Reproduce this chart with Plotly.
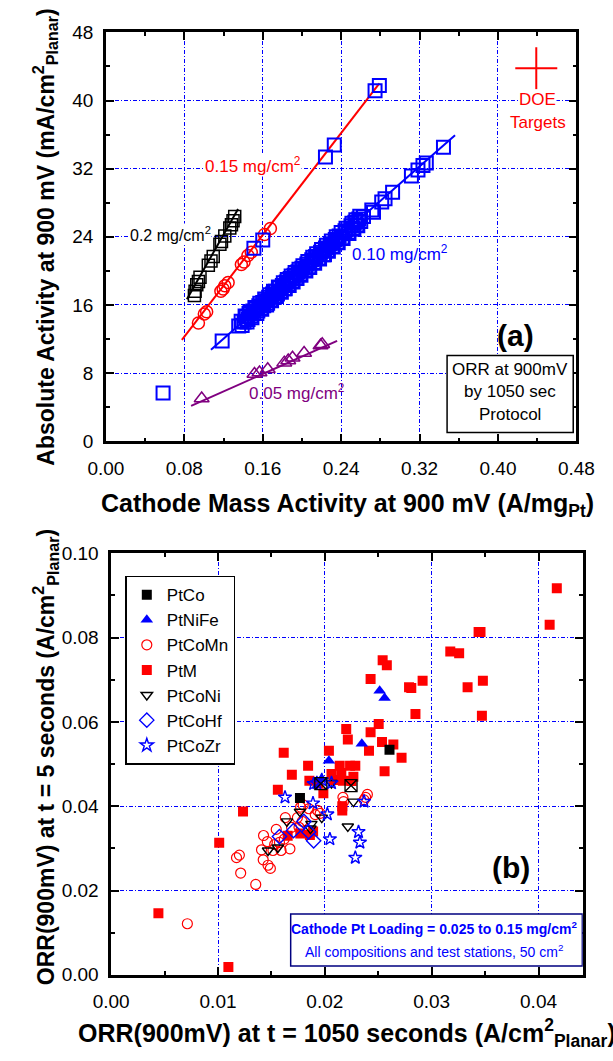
import plotly.graph_objects as go

W, H = 613, 1061

# ================= Panel (a) data =================
# 0.2 mg/cm2 loading (black open squares)
l20_x = [0.0903, 0.0910, 0.0927, 0.0944, 0.0960, 0.1045, 0.1072, 0.1095, 0.1163, 0.1179,
         0.1213, 0.1264, 0.1281, 0.1297, 0.1314]
l20_y = [17.12, 17.61, 18.38, 18.76, 19.25, 20.66, 21.16, 21.69, 23.14, 23.45,
         24.09, 25.05, 25.43, 25.89, 26.38]
l20_fit_x = [0.0826, 0.1348]
l20_fit_y = [16.66, 27.26]

# 0.15 mg/cm2 loading (red open circles + some blue squares)
l15_x = [0.0944, 0.1004, 0.1028, 0.1173, 0.1196, 0.1213, 0.1247, 0.1382, 0.1409, 0.1449,
         0.1483, 0.1618, 0.1678]
l15_y = [13.88, 14.94, 15.21, 17.61, 17.88, 18.26, 18.64, 20.74, 21.04, 21.81,
         22.19, 24.28, 24.97]
l15_sq_x = [0.151, 0.160, 0.224, 0.233, 0.2746, 0.279]
l15_sq_y = [22.65, 23.64, 33.36, 34.77, 41.14, 41.75]
l15_fit_x = [0.0775, 0.279]
l15_fit_y = [11.9, 42.0]

# 0.10 mg/cm2 loading (blue open squares)
l10_x = [0.0583, 0.1186, 0.1355,
         0.138, 0.141, 0.143, 0.145, 0.146, 0.148, 0.150, 0.151, 0.153, 0.155,
         0.156, 0.158, 0.160, 0.161, 0.163, 0.165, 0.166, 0.168, 0.170, 0.172,
         0.173, 0.175, 0.177, 0.178, 0.180, 0.182, 0.184, 0.186, 0.188, 0.190,
         0.192, 0.194, 0.196, 0.198, 0.200, 0.203, 0.205, 0.207, 0.210, 0.212,
         0.214, 0.217, 0.219, 0.222, 0.224, 0.226, 0.229, 0.231, 0.234, 0.236,
         0.238, 0.241, 0.244, 0.247, 0.250, 0.252, 0.254, 0.256, 0.258, 0.260,
         0.139, 0.142, 0.144, 0.147, 0.149, 0.152, 0.154, 0.157, 0.159, 0.162,
         0.164, 0.167, 0.169, 0.171, 0.174, 0.176, 0.179, 0.181, 0.183, 0.185,
         0.187, 0.189, 0.191, 0.193, 0.195, 0.197, 0.199, 0.201, 0.204, 0.206,
         0.208, 0.211, 0.213, 0.215, 0.218, 0.220, 0.223, 0.225, 0.227, 0.230,
         0.232, 0.235, 0.237, 0.240, 0.242, 0.245, 0.248, 0.251, 0.253, 0.255,
         0.257, 0.259,
         0.2628, 0.2713, 0.2730, 0.2814, 0.2848, 0.2925, 0.3117, 0.3184, 0.3235,
         0.3269, 0.3444]
l10_y = [5.68, 11.78, 13.53,
         14.1, 14.0, 14.6, 14.3, 15.0, 14.7, 15.3, 15.0, 15.6, 15.3,
         15.9, 15.6, 16.3, 15.9, 16.5, 16.2, 16.9, 16.6, 17.3, 16.9,
         17.6, 17.3, 18.0, 17.6, 18.3, 17.9, 18.7, 18.4, 19.1, 18.8,
         19.5, 19.2, 19.9, 19.6, 20.3, 20.1, 20.8, 20.5, 21.3, 21.0,
         21.7, 21.5, 22.2, 21.9, 22.7, 22.4, 23.2, 22.9, 23.7, 23.4,
         24.1, 23.9, 24.7, 24.5, 25.3, 25.0, 25.7, 25.4, 26.1, 25.8,
         13.6, 14.7, 14.0, 15.2, 14.5, 15.7, 15.0, 16.2, 15.5, 16.7,
         16.0, 17.2, 16.5, 17.6, 17.0, 18.1, 17.5, 18.6, 17.9, 19.0,
         18.3, 19.4, 18.7, 19.8, 19.1, 20.2, 19.5, 20.6, 20.0, 21.1,
         20.4, 21.6, 20.9, 22.0, 21.4, 22.5, 21.9, 23.0, 22.3, 23.5,
         22.8, 24.0, 23.3, 24.5, 23.8, 25.0, 24.4, 25.6, 24.9, 26.0,
         25.3, 26.4,
         26.38, 27.14, 26.88, 28.10, 28.48, 29.24, 31.15, 31.83, 32.37,
         32.67, 34.50]
l10_fit_x = [0.1072, 0.3562]
l10_fit_y = [10.75, 35.91]

# 0.05 mg/cm2 loading (purple open triangles)
l05_x = [0.0977, 0.1516, 0.1567, 0.1651, 0.1820, 0.1860, 0.1904, 0.2022, 0.2190, 0.2207]
l05_y = [5.03, 7.89, 8.08, 8.46, 9.23, 9.49, 9.80, 10.37, 11.25, 11.40]
l05_fit_x = [0.0869, 0.2359]
l05_fit_y = [4.16, 11.78]

doe_x = [0.4391]
doe_y = [43.8]

# ================= Panel (b) data =================
ptco_x = [0.01767, 0.02605]
ptco_y = [0.04195, 0.0534]
ptco_box_x = [0.01962, 0.02245]
ptco_box_y = [0.04534, 0.0449]

ptnife_x = [0.02513, 0.02559, 0.02346, 0.02038, 0.0197]
ptnife_y = [0.0674, 0.0657, 0.0548, 0.0508, 0.0465]

ptcomn_x = [0.00713, 0.01353, 0.01212, 0.01173, 0.0120, 0.01426, 0.01407, 0.01423, 0.01462,
            0.01468, 0.0149, 0.01545, 0.01514, 0.0159, 0.0163, 0.01673, 0.0162, 0.01758,
            0.01773, 0.01797, 0.0191, 0.01932, 0.01956, 0.02169, 0.02175, 0.02382, 0.02398,
            0.02367, 0.0153, 0.01575, 0.01688, 0.01743, 0.01788, 0.0185]
ptcomn_y = [0.01212, 0.02144, 0.02415, 0.0278, 0.0284, 0.03305, 0.02966, 0.02729, 0.0316,
            0.0260, 0.02525, 0.0345, 0.0295, 0.0295, 0.0373, 0.0299, 0.0322, 0.0350,
            0.0398, 0.0403, 0.0380, 0.0390, 0.0383, 0.0421, 0.0411, 0.0421, 0.0428,
            0.0415, 0.0309, 0.0314, 0.0350, 0.0373, 0.0364, 0.0394]

ptm_x = [0.00442, 0.01097, 0.01011, 0.01234, 0.0156, 0.01615, 0.01691, 0.01843, 0.01855,
         0.01986, 0.02038, 0.02062, 0.02139, 0.02154, 0.02169, 0.0220, 0.02215, 0.02236,
         0.02285, 0.02267, 0.02163, 0.02163, 0.02413, 0.02428, 0.02428, 0.02504, 0.02535,
         0.02541, 0.0258, 0.02559, 0.02641, 0.02718, 0.02788, 0.02809, 0.02848, 0.02915,
         0.03174, 0.03257, 0.03336, 0.03439, 0.03457, 0.03479, 0.0347, 0.04104, 0.04171,
         0.01652, 0.0177, 0.0186, 0.0189, 0.0208, 0.0194, 0.0225]
ptm_y = [0.01458, 0.00186, 0.03136, 0.03873, 0.0439, 0.0527, 0.04746, 0.04958, 0.04602,
         0.04305, 0.05314, 0.04763, 0.04958, 0.04788, 0.04602, 0.0583, 0.05585, 0.04958,
         0.04958, 0.0470, 0.0400, 0.0390, 0.05314, 0.07017, 0.05754, 0.05949, 0.05525,
         0.07466, 0.07347, 0.0483, 0.05466, 0.05153, 0.06822, 0.06805, 0.06186, 0.06975,
         0.07669, 0.07627, 0.06822, 0.08136, 0.08136, 0.06975, 0.06144, 0.08305, 0.09169,
         0.0330, 0.0335, 0.0332, 0.0340, 0.0462, 0.0455, 0.0460]

ptconi_x = [0.01468, 0.0156, 0.01645, 0.01767, 0.01874, 0.01971, 0.02062, 0.02267, 0.02215, 0.01865]
ptconi_y = [0.0295, 0.0302, 0.0364, 0.0387, 0.0358, 0.0373, 0.0455, 0.0411, 0.0352, 0.0347]

ptcohf_x = [0.01575, 0.01706, 0.01804, 0.01849, 0.01895]
ptcohf_y = [0.0328, 0.0342, 0.0364, 0.0339, 0.0318]

ptcozr_x = [0.01627, 0.01889, 0.01895, 0.01971, 0.02023, 0.02047, 0.02062, 0.02315, 0.02328,
            0.02285, 0.02367, 0.01925]
ptcozr_y = [0.0421, 0.0407, 0.0453, 0.0462, 0.0381, 0.0322, 0.0455, 0.0339, 0.0314,
            0.0278, 0.0411, 0.0455]

RED = "#FF0000"
BLUE = "#0000FF"
PURPLE = "#800080"
FONT = "Liberation Sans, Arial, sans-serif"

fig = go.Figure()

# ---------- panel (a) traces ----------
def fit(x, y, c):
    fig.add_trace(go.Scatter(x=x, y=y, mode="lines", line=dict(color=c, width=2),
                             showlegend=False, xaxis="x", yaxis="y", hoverinfo="skip"))

def pts(x, y, sym, c, size, lw=1.5, xa="x", ya="y"):
    fig.add_trace(go.Scatter(x=x, y=y, mode="markers", showlegend=False, xaxis=xa, yaxis=ya,
                             marker=dict(symbol=sym, size=size, color=c,
                                         line=dict(color=c, width=lw))))

fit(l20_fit_x, l20_fit_y, "black")
fit(l15_fit_x, l15_fit_y, RED)
fit(l10_fit_x, l10_fit_y, BLUE)
fit(l05_fit_x, l05_fit_y, PURPLE)
pts(l20_x, l20_y, "square-open", "black", 12, 1.5)
pts(l15_x, l15_y, "circle-open", RED, 12, 1.5)
pts(l10_x, l10_y, "square-open", BLUE, 13, 2)
pts(l15_sq_x, l15_sq_y, "square-open", BLUE, 13, 2)
pts(l05_x, l05_y, "triangle-up-open", PURPLE, 13, 1.5)
pts(doe_x, doe_y, "cross-thin-open", RED, 30, 2)

# ---------- panel (b) traces ----------
def bpts(x, y, name, sym, c, size, lw, rank, fill=None):
    fig.add_trace(go.Scatter(x=x, y=y, mode="markers", name=name, xaxis="x2", yaxis="y2",
                             legendrank=rank,
                             marker=dict(symbol=sym, size=size, color=fill or c,
                                         line=dict(color=c, width=lw))))

bpts(ptm_x, ptm_y, "PtM", "square", RED, 10, 0, 4)
bpts(ptcomn_x, ptcomn_y, "PtCoMn", "circle-open", RED, 10, 1.2, 3)
bpts(ptconi_x, ptconi_y, "PtCoNi", "triangle-down-open", "black", 10, 1.4, 5)
bpts(ptcohf_x, ptcohf_y, "PtCoHf", "diamond-open", BLUE, 11, 1.4, 6)
bpts(ptcozr_x, ptcozr_y, "PtCoZr", "star-open", BLUE, 10, 1.4, 7)
bpts(ptnife_x, ptnife_y, "PtNiFe", "triangle-up", BLUE, 11, 0, 2)
bpts(ptco_x, ptco_y, "PtCo", "square", "black", 10, 0, 1)
pts(ptco_box_x, ptco_box_y, "square-x-open", "black", 12, 1.3, "x2", "y2")

# ---------- axes ----------
GRIDDASH = "4px,2px,1px,2px"
def axis(**kw):
    d = dict(showline=True, linecolor="black", linewidth=2.5, mirror="allticks",
             ticks="inside", ticklen=8, tickwidth=2, tickcolor="black",
             showgrid=True, gridcolor=BLUE, gridwidth=1, griddash=GRIDDASH,
             zeroline=False, tickfont=dict(family=FONT, size=19, color="black"))
    d.update(kw)
    return d

minor = lambda dt: dict(ticks="inside", ticklen=4, tickwidth=1.5, tickcolor="black",
                        dtick=dt, showgrid=False)

fig.update_layout(
    width=W, height=H, margin=dict(l=0, r=0, t=0, b=0),
    plot_bgcolor="white", paper_bgcolor="white",
    xaxis=axis(domain=[93.4 / W, 593.2 / W], range=[0, 0.48], tick0=0, dtick=0.08,
               tickformat=".2f", anchor="y", minor=minor(0.04), ticklabelstandoff=8),
    yaxis=axis(domain=[1 - 440 / H, 1 - 22.8 / H], range=[0, 48], tick0=0, dtick=8,
               anchor="x", minor=minor(4), ticklabelstandoff=6),
    xaxis2=axis(domain=[99 / W, 600 / W], range=[0, 0.04414], tick0=0, dtick=0.01,
                tickformat=".2f", anchor="y2", minor=minor(0.005), ticklabelstandoff=8),
    yaxis2=axis(domain=[1 - 984.3 / H, 1 - 554.3 / H], range=[0, 0.1], tick0=0, dtick=0.02,
                tickformat=".2f", anchor="x2", minor=minor(0.01), ticklabelstandoff=6),
    legend=dict(x=114 / W, y=1 - 577 / H, xanchor="left", yanchor="top",
                bordercolor="black", borderwidth=1.5, bgcolor="white",
                font=dict(family=FONT, size=17, color="black"), tracegroupgap=0),
    font=dict(family=FONT, color="black"),
)

# ---------- boxes ----------
fig.add_shape(type="rect", xref="x", yref="y", x0=0.3481, x1=0.4768, y0=1.03, y1=10.07,
              fillcolor="white", line=dict(color="black", width=1.5), layer="above")
fig.add_shape(type="rect", xref="x2", yref="y2", x0=0.0168, x1=0.0441, y0=0.0021, y1=0.0144,
              fillcolor="white", line=dict(color="#000080", width=1.5), layer="above")

ann = []
def txt(x, y, t, size, color="black", xref="x", yref="y", bg=None, bold=False, fam=FONT,
        angle=0, xanchor="center", yanchor="middle"):
    a = dict(x=x, y=y, xref=xref, yref=yref, text=("<b>%s</b>" % t) if bold else t,
             showarrow=False, font=dict(family=fam, size=size, color=color),
             xanchor=xanchor, yanchor=yanchor, textangle=angle, borderpad=0)
    if bg:
        a["bgcolor"] = bg
    ann.append(a)

# panel (a) labels
txt(0.0657, 24.36, "0.2 mg/cm<sup>2</sup>", 16, "black", bg="white")
txt(0.1503, 32.48, "0.15 mg/cm<sup>2</sup>", 17, RED, bg="white")
txt(0.2996, 22.07, "0.10 mg/cm<sup>2</sup>", 17, BLUE)
txt(0.1948, 5.79, "0.05 mg/cm<sup>2</sup>", 17, PURPLE)
txt(0.4408, 40.11, "DOE", 17, RED, bg="white")
txt(0.4408, 37.44, "Targets", 17, RED)
txt(0.4179, 12.47, "(a)", 30, bold=True)
txt(0.4125, 8.46, "ORR at 900mV", 17)
txt(0.4125, 5.79, "by 1050 sec", 17)
txt(0.4125, 3.13, "Protocol", 17)

# panel (b) labels
txt(0.03738, 0.02542, "(b)", 30, xref="x2", yref="y2", bold=True)
txt(0.0302, 0.0110, "Cathode Pt Loading = 0.025 to 0.15 mg/cm<sup>2</sup>", 14, BLUE,
    xref="x2", yref="y2", bold=True)
txt(0.0302, 0.0057, "All compositions and test stations, 50 cm<sup>2</sup>", 14, BLUE,
    xref="x2", yref="y2")

# axis titles
txt(350 / W, 1 - 505 / H, "Cathode Mass Activity at 900 mV (A/mg<sub>Pt</sub>)", 25,
    xref="paper", yref="paper", bold=True)
txt(350 / W, 1 - 1044 / H, "ORR(900mV) at t = 1050 seconds (A/cm<sup>2</sup><sub>Planar</sub>)", 25,
    xref="paper", yref="paper", bold=True)
txt(29 / W, 1 - 232 / H, "Absolute Activity at 900 mV (mA/cm<sup>2</sup><sub>Planar</sub>)", 23,
    xref="paper", yref="paper", bold=True, angle=-90)
txt(29 / W, 1 - 762 / H, "ORR(900mV) at t = 5 seconds (A/cm<sup>2</sup><sub>Planar</sub>)", 23,
    xref="paper", yref="paper", bold=True, angle=-90)

fig.update_layout(annotations=ann)
fig.write_html("out.html", config={"displayModeBar": False},
               post_script="document.body.style.margin='0px';")
